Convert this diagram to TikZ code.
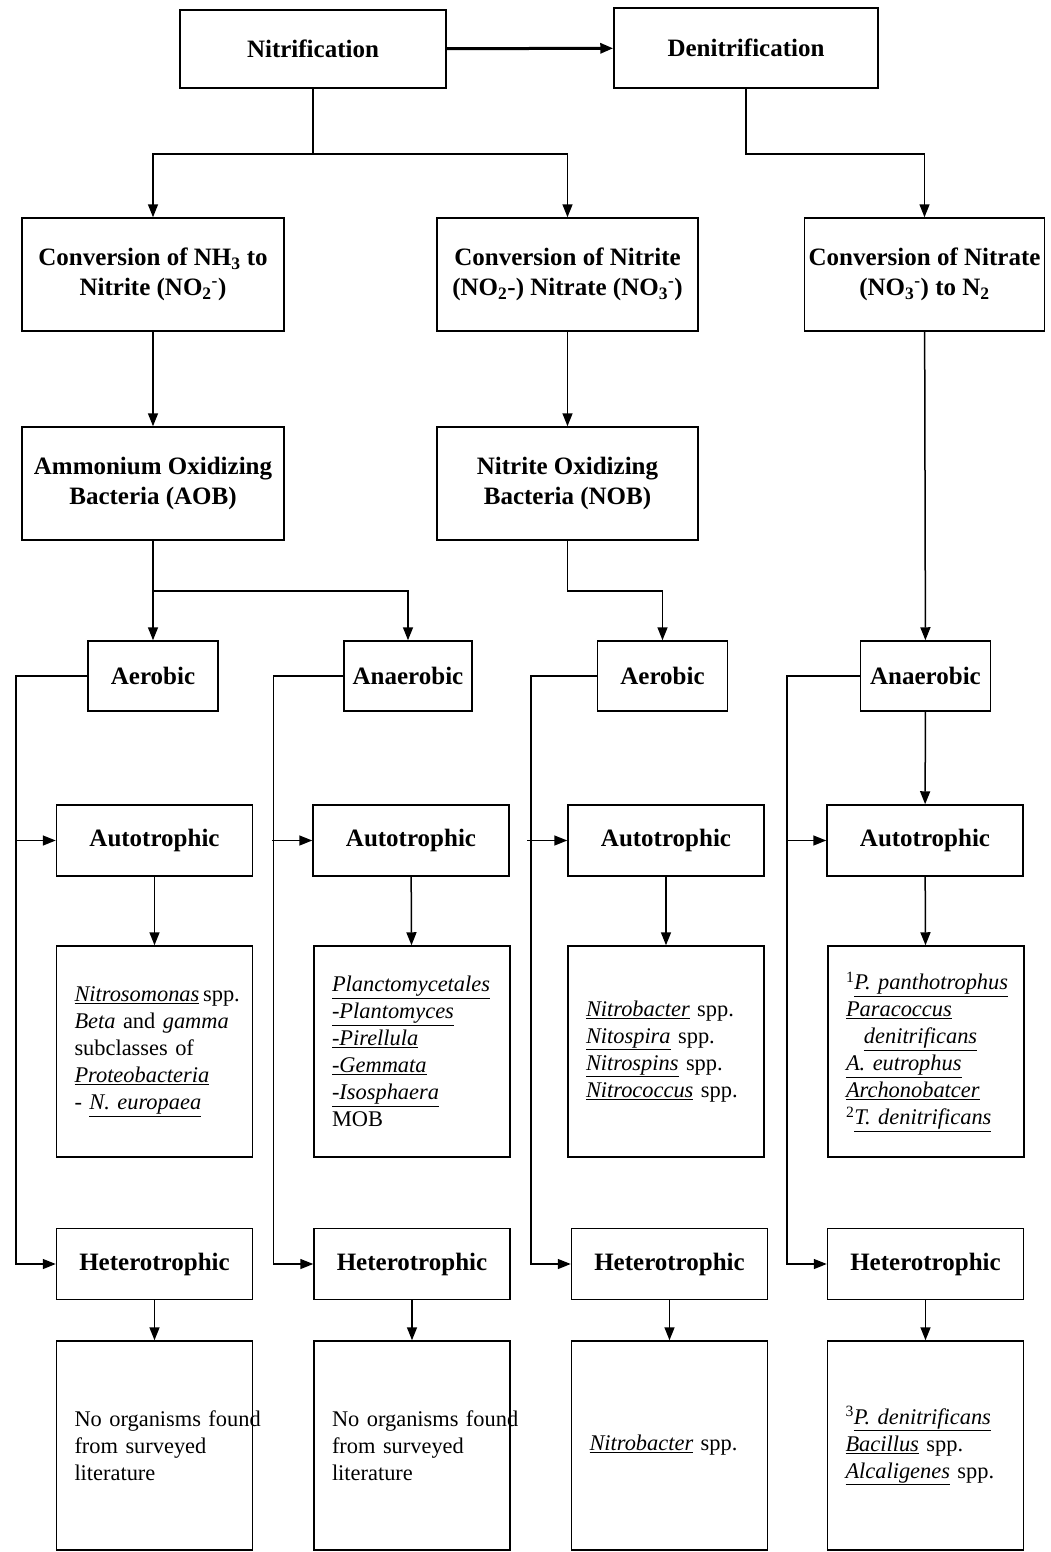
\documentclass[tikz,border=0pt]{standalone}
\usepackage{fontspec}
\setmainfont{Liberation Serif}
\usetikzlibrary{arrows.meta}

\tikzset{
  box/.style={draw, line width=1.5pt, inner sep=4pt},
  head/.style={box, align=center, font=\bfseries\fontsize{25}{30}\selectfont},
  big/.style={head, minimum width=262pt, minimum height=113pt},
  mode/.style={head, minimum width=130pt, minimum height=70pt},
  troph/.style={head, minimum width=196pt, minimum height=71pt},
  list/.style={box, align=left, text width=160pt, inner xsep=18pt,
    minimum height=211pt, font=\fontsize{22.4}{27}\selectfont},
  arr/.style={line width=1.5pt, -{Triangle[length=13pt,width=10pt]}}
}
\newcommand{\gen}[1]{\underline{\textit{#1}}}

\begin{document}
\begin{tikzpicture}[x=1pt,y=1pt]
\useasboundingbox (0,0) rectangle (1051,-1552);
% top row
\node[head, minimum width=266pt, minimum height=78pt] (nit) at (313,-49) {Nitrification};
\node[head, minimum width=264pt, minimum height=80pt] (den) at (746,-48) {Denitrification};
\draw[arr, line width=3pt] (nit) -- (den);

% conversions
\node[big] (convA) at (153,-274.5) {Conversion of NH\textsubscript{3} to\\Nitrite (NO\textsubscript{2}\textsuperscript{-})};
\node[big, minimum width=261pt] (convB) at (567.5,-274.5) {Conversion of Nitrite\\(NO\textsubscript{2}-) Nitrate (NO\textsubscript{3}\textsuperscript{-})};
\node[big, minimum width=237pt] (convC) at (924.5,-274.5) {Conversion of Nitrate\\(NO\textsubscript{3}\textsuperscript{-}) to N\textsubscript{2}};
\draw[line width=1.5pt] (nit.south) -- ++(0,-65) coordinate (nj);
\draw[arr] (nj) -| (convA.north);
\draw[arr] (nj) -| (convB.north);
\draw[arr] (den.south) -- ++(0,-65) -| (convC.north);

% bacteria groups
\node[big] (aob) at (153,-483.5) {Ammonium Oxidizing\\Bacteria (AOB)};
\node[big, minimum width=261pt] (nob) at (567.5,-483.5) {Nitrite Oxidizing\\Bacteria (NOB)};
\draw[arr] (convA) -- (aob);
\draw[arr] (convB) -- (nob);

% oxygen regime
\node[mode] (mode1) at (153,-676) {Aerobic};
\node[mode, minimum width=128pt] (mode2) at (408,-676) {Anaerobic};
\node[mode] (mode3) at (662.5,-676) {Aerobic};
\node[mode] (mode4) at (925.5,-676) {Anaerobic};
\draw[line width=1.5pt] (aob.south) -- ++(0,-50) coordinate (aj);
\draw[arr] (aj) -- (mode1.north);
\draw[arr] (aj) -| (mode2.north);
\draw[arr] (nob.south) -- ++(0,-50) -| (mode3.north);
\draw[arr] (convC) -- (mode4);

% autotrophic / heterotrophic and organisms
\node[troph] (auto1) at (154.5,-840.5) {Autotrophic};
\node[troph] (auto2) at (411,-840.5) {Autotrophic};
\node[troph] (auto3) at (666,-840.5) {Autotrophic};
\node[troph] (auto4) at (925,-840.5) {Autotrophic};
\draw[arr] (mode4) -- (auto4);

\node[list] (spec1) at (154.5,-1051.5) {\mbox{\gen{Nitrosomonas}\,spp.}\\\mbox{\textit{Beta} and \textit{gamma}}\\subclasses of\\\gen{Proteobacteria}\\- \gen{N. europaea}};
\node[list] (spec2) at (412,-1051.5) {\mbox{\gen{Planctomycetales}}\\\gen{-Plantomyces}\\\gen{-Pirellula}\\\gen{-Gemmata}\\\gen{-Isosphaera}\\MOB};
\node[list] (spec3) at (666,-1051.5) {\gen{Nitrobacter} spp.\\\gen{Nitospira} spp.\\\gen{Nitrospins} spp.\\\mbox{\gen{Nitrococcus} spp.}};
\node[list] (spec4) at (926,-1051.5) {\mbox{\textsuperscript{1}\gen{P. panthotrophus}}\\\gen{Paracoccus}\\\hspace*{0.8em}\gen{denitrificans}\\\gen{A. eutrophus}\\\gen{Archonobatcer}\\\mbox{\textsuperscript{2}\gen{T. denitrificans}}};

\node[troph] (het1) at (154.5,-1264) {Heterotrophic};
\node[troph] (het2) at (412,-1264) {Heterotrophic};
\node[troph] (het3) at (669.5,-1264) {Heterotrophic};
\node[troph] (het4) at (925.5,-1264) {Heterotrophic};

\node[list, minimum height=209pt] (org1) at (154.5,-1445.5) {\mbox{No organisms found}\\from surveyed\\literature};
\node[list, minimum height=209pt] (org2) at (412,-1445.5) {\mbox{No organisms found}\\from surveyed\\literature};
\node[list, minimum height=209pt] (org3) at (669.5,-1445.5) {\gen{Nitrobacter} spp.};
\node[list, minimum height=209pt] (org4) at (925.5,-1445.5) {\mbox{\textsuperscript{3}\gen{P. denitrificans}}\\\gen{Bacillus} spp.\\\gen{Alcaligenes} spp.};

\foreach \i in {1,...,4} {
  \draw[arr] (mode\i.west) -| ([xshift=-40pt]het\i.west) -- (het\i.west);
  \draw[arr] ([xshift=-40pt]auto\i.west) -- (auto\i.west);
  \draw[arr] (auto\i) -- (spec\i);
  \draw[arr] (het\i) -- (org\i);
}
\end{tikzpicture}
\end{document}
